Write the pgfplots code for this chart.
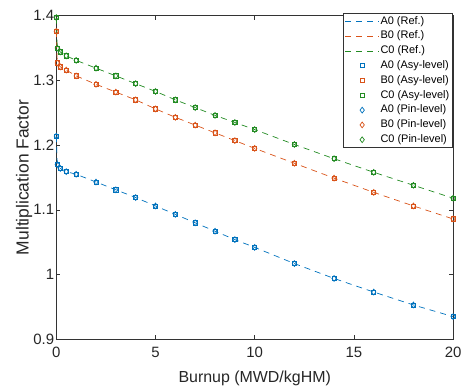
\documentclass[border=0pt]{standalone}
\usepackage{fontspec}
\setmainfont{Liberation Sans}
\usepackage{pgfplots}
\usepackage{pgfplotstable}
\pgfplotsset{compat=1.18}
\definecolor{cA}{rgb}{0,0.447,0.741}
\definecolor{cB}{rgb}{0.85,0.325,0.098}
\definecolor{cC}{rgb}{0.133,0.545,0.133}
\pgfplotstableread{
x y
0 1.214
0.05 1.170
0.2 1.164
0.5 1.159
1 1.155
2 1.143
3 1.131
4 1.119
5 1.106
6 1.093
7 1.080
8 1.067
9 1.054
10 1.042
12 1.017
14 0.994
16 0.973
18 0.953
20 0.935
}\dataA
\pgfplotstableread{
x y
0 1.376
0.05 1.327
0.2 1.321
0.5 1.316
1 1.307
2 1.294
3 1.282
4 1.270
5 1.256
6 1.243
7 1.231
8 1.219
9 1.207
10 1.195
12 1.172
14 1.149
16 1.127
18 1.106
20 1.086
}\dataB
\pgfplotstableread{
x y
0 1.397
0.05 1.350
0.2 1.344
0.5 1.338
1 1.331
2 1.319
3 1.307
4 1.295
5 1.283
6 1.270
7 1.258
8 1.246
9 1.235
10 1.224
12 1.201
14 1.179
16 1.158
18 1.138
20 1.118
}\dataC
\begin{document}
\begin{tikzpicture}
\useasboundingbox (-56.3bp,-46.7bp) rectangle (407.6bp,339.2bp);
\begin{axis}[
  at={(0,0)}, anchor=south west,
  scale only axis, width=396.7bp, height=323.5bp,
  xmin=0, xmax=20, ymin=0.9, ymax=1.4,
  xtick={0,5,10,15,20}, ytick={0.9,1,1.1,1.2,1.3,1.4},
  tick align=inside, major tick length=4bp,
  axis line style={color=black!80, line width=0.6bp},
  tick style={color=black!80, line width=0.6bp},
  ticklabel style={font=\fontsize{15}{18}\selectfont, color=black!85},
  yticklabel style={inner xsep=2bp},
  xticklabel style={yshift=-4bp},
  /pgf/number format/assume math mode=true,
  xlabel={Burnup (MWD/kgHM)},
  ylabel={Multiplication Factor},
  xlabel style={font=\fontsize{16}{19}\selectfont, color=black!85, at={(axis description cs:0.5,-0.12)}, anchor=center},
  ylabel style={font=\fontsize{17.5}{20}\selectfont, color=black!85, at={(axis description cs:-0.0814,0.5)}, anchor=center},
  clip=false,
  legend image code/.code={\draw[mark repeat=2,mark phase=2] plot coordinates {(0bp,0bp) (17bp,0bp) (34bp,0bp)};},
  legend style={at={(axis description cs:1,1)}, anchor=north east, xshift=-1bp, yshift=2.4bp,
    font=\fontsize{11}{13}\selectfont, draw=black!80, line width=0.5bp,
    inner xsep=1.5bp, inner ysep=1.5bp, row sep=2.3bp,
    nodes={inner xsep=1bp, inner ysep=1bp, text height=8bp, text depth=2.5bp},
    /tikz/every even column/.append style={column sep=0bp},
    cells={anchor=west}},
  refline/.style={line width=0.7bp, dash pattern=on 6bp off 5bp, mark=none},
  sqm/.style={only marks, mark=square, mark size=2.1bp, mark options={line width=0.7bp, solid}},
  dim/.style={only marks, mark=diamond, mark size=2.9bp, mark options={line width=0.7bp, solid}},
]
\addplot[refline, color=cA] table[x=x,y=y] {\dataA};
\addlegendentry{A0 (Ref.)}
\addplot[refline, color=cB] table[x=x,y=y] {\dataB};
\addlegendentry{B0 (Ref.)}
\addplot[refline, color=cC] table[x=x,y=y] {\dataC};
\addlegendentry{C0 (Ref.)}
\addplot[sqm, color=cA] table[x=x,y=y] {\dataA};
\addlegendentry{A0 (Asy-level)}
\addplot[sqm, color=cB] table[x=x,y=y] {\dataB};
\addlegendentry{B0 (Asy-level)}
\addplot[sqm, color=cC] table[x=x,y=y] {\dataC};
\addlegendentry{C0 (Asy-level)}
\addplot[dim, color=cA] table[x=x,y=y] {\dataA};
\addlegendentry{A0 (Pin-level)}
\addplot[dim, color=cB] table[x=x,y=y] {\dataB};
\addlegendentry{B0 (Pin-level)}
\addplot[dim, color=cC] table[x=x,y=y] {\dataC};
\addlegendentry{C0 (Pin-level)}
\end{axis}
\end{tikzpicture}
\end{document}
